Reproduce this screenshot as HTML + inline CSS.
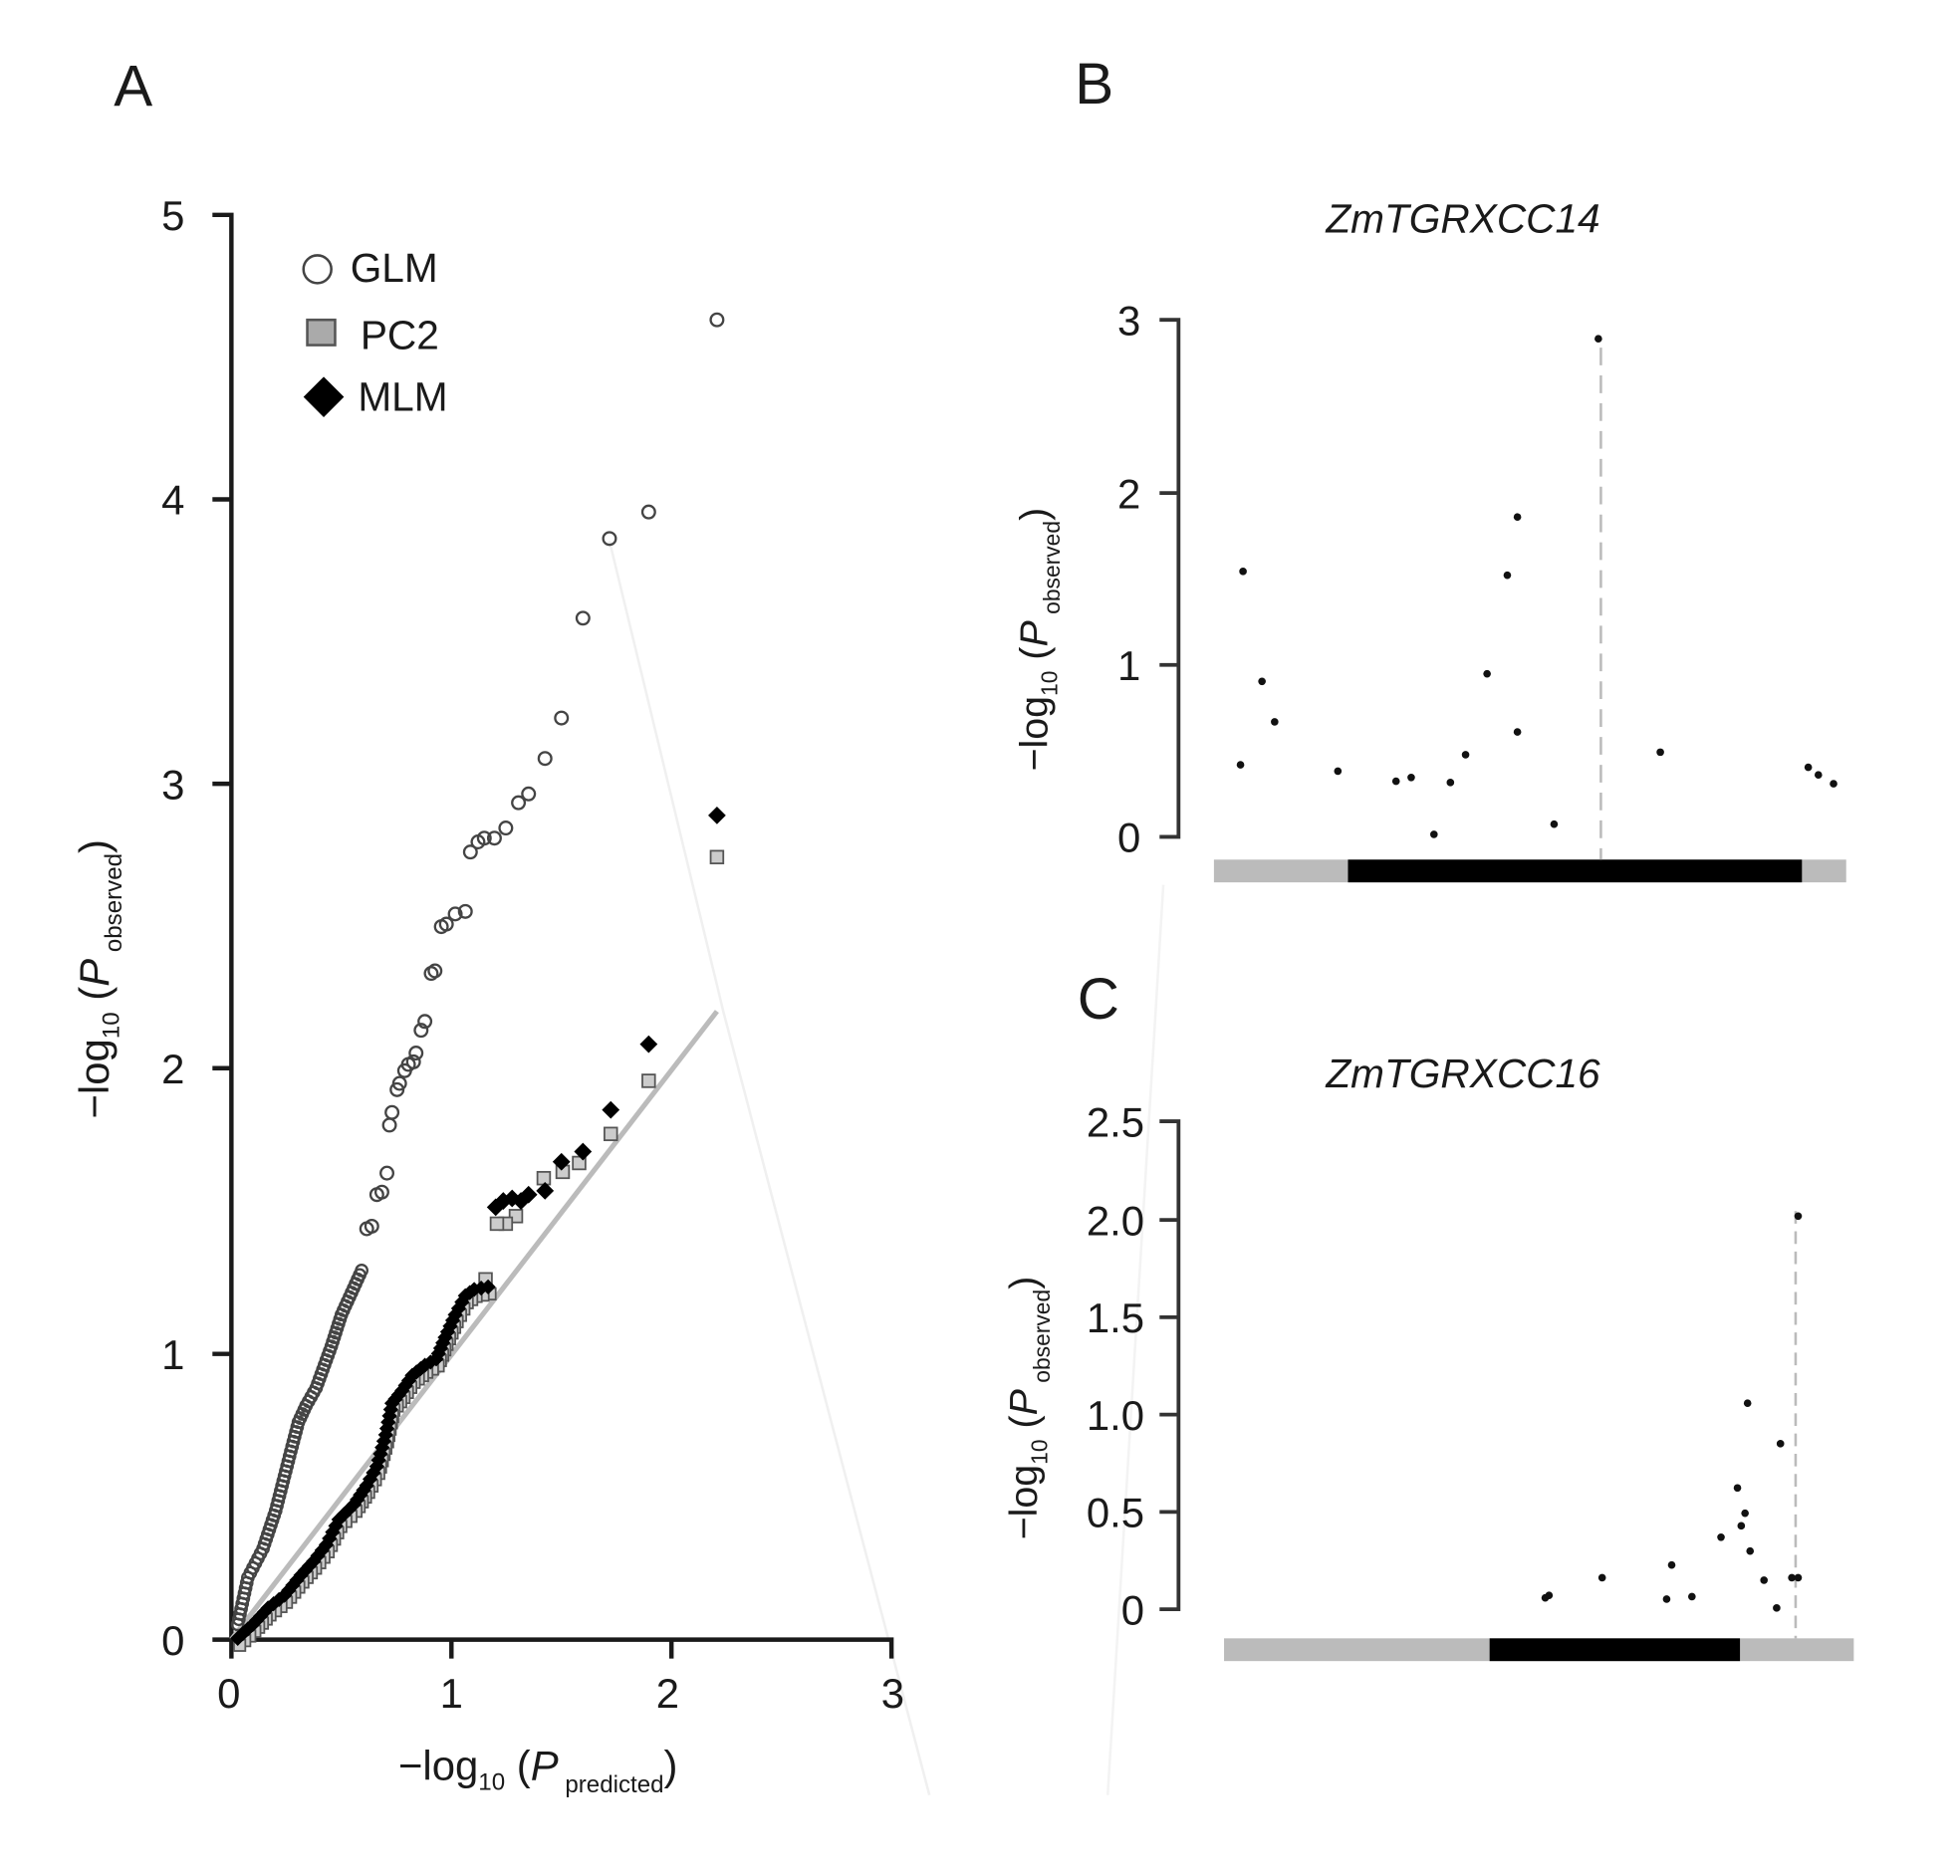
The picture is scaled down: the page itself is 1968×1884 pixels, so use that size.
<!DOCTYPE html>
<html><head><meta charset="utf-8"><style>
html,body{margin:0;padding:0;background:#fff;}
svg{display:block;}
text{font-family:"Liberation Sans",sans-serif;fill:#1a1a1a;}
</style></head><body>
<svg id="s" width="1968" height="1884" viewBox="0 0 1550 1484" preserveAspectRatio="none" xmlns="http://www.w3.org/2000/svg">
<polyline points="482,428 572,800 735,1420" fill="none" stroke="#f0f0f0" stroke-width="2"/>
<line x1="920" y1="700" x2="876" y2="1420" stroke="#f3f3f3" stroke-width="2"/>

<text x="90" y="84" font-size="46">A</text>
<g stroke="#1a1a1a" stroke-width="3.5" fill="none">
<polyline points="168,170 183,170 183,1297 705,1297 705,1312"/>
<line x1="168" y1="395" x2="183" y2="395"/>
<line x1="168" y1="620" x2="183" y2="620"/>
<line x1="168" y1="845" x2="183" y2="845"/>
<line x1="168" y1="1071" x2="183" y2="1071"/>
<line x1="168" y1="1297" x2="183" y2="1297"/>
<line x1="183" y1="1297" x2="183" y2="1312"/>
<line x1="357" y1="1297" x2="357" y2="1312"/>
<line x1="531" y1="1297" x2="531" y2="1312"/>
</g>
<g font-size="33" text-anchor="end">
<text x="146" y="182">5</text><text x="146" y="407">4</text><text x="146" y="632">3</text>
<text x="146" y="857">2</text><text x="146" y="1083">1</text><text x="146" y="1309">0</text>
</g>
<g font-size="33" text-anchor="middle">
<text x="181" y="1351">0</text><text x="357" y="1351">1</text><text x="528" y="1351">2</text><text x="706" y="1351">3</text>
</g>
<text x="315" y="1408" font-size="33">−log<tspan font-size="19" dy="8">10</tspan><tspan dy="-8"> (</tspan><tspan font-style="italic">P</tspan><tspan font-size="19" dy="10"> predicted</tspan><tspan dy="-10">)</tspan></text>
<text transform="translate(86,885) rotate(-90)" font-size="33">−log<tspan font-size="19" dy="8">10</tspan><tspan dy="-8"> (</tspan><tspan font-style="italic">P</tspan><tspan font-size="19" dy="10"> observed</tspan><tspan dy="-10">)</tspan></text>

<circle cx="251" cy="213" r="11" fill="#fff" stroke="#444" stroke-width="2"/>
<text x="277" y="223" font-size="32">GLM</text>
<rect x="243" y="253" width="22" height="20" fill="#aaa" stroke="#555" stroke-width="2"/>
<text x="285" y="276" font-size="32">PC2</text>
<polygon points="256,298 272,314 256,330 240,314" fill="#000"/>
<text x="283" y="325" font-size="32">MLM</text>

<line x1="183" y1="1297" x2="567" y2="800" stroke="#bbb" stroke-width="4"/>
<g id="glm" fill="none" stroke="#444" stroke-width="1.8"></g>
<g id="pc2" fill="#ccc" stroke="#555" stroke-width="1.4"></g>
<g id="mlm" fill="#000"></g>

<text x="850" y="82" font-size="46">B</text>
<text x="1157" y="184" font-size="32" font-style="italic" text-anchor="middle">ZmTGRXCC14</text>
<g stroke="#333" stroke-width="3" fill="none">
<polyline points="917,253 932,253 932,662 917,662"/>
<line x1="917" y1="390" x2="932" y2="390"/><line x1="917" y1="526" x2="932" y2="526"/>
</g>
<g font-size="33" text-anchor="end">
<text x="902" y="265">3</text><text x="902" y="402">2</text><text x="902" y="538">1</text><text x="902" y="674">0</text>
</g>
<text transform="translate(828,610) rotate(-90)" font-size="31">−log<tspan font-size="18" dy="8">10</tspan><tspan dy="-8"> (</tspan><tspan font-style="italic">P</tspan><tspan font-size="18" dy="10"> observed</tspan><tspan dy="-10">)</tspan></text>
<rect x="960" y="680" width="500" height="18" fill="#bbb"/>
<rect x="1066" y="680" width="359" height="18" fill="#000"/>
<line x1="1266" y1="275" x2="1266" y2="680" stroke="#bbb" stroke-width="2" stroke-dasharray="14,8"/>
<g id="bp" fill="#111"></g>

<text x="852" y="806" font-size="46">C</text>
<text x="1157" y="860" font-size="32" font-style="italic" text-anchor="middle">ZmTGRXCC16</text>
<g stroke="#333" stroke-width="3" fill="none">
<polyline points="917,887 932,887 932,1273 917,1273"/>
<line x1="917" y1="965" x2="932" y2="965"/><line x1="917" y1="1042" x2="932" y2="1042"/>
<line x1="917" y1="1119" x2="932" y2="1119"/><line x1="917" y1="1196" x2="932" y2="1196"/>
</g>
<g font-size="33" text-anchor="end">
<text x="905" y="899">2.5</text><text x="905" y="977">2.0</text><text x="905" y="1054">1.5</text>
<text x="905" y="1131">1.0</text><text x="905" y="1208">0.5</text><text x="905" y="1285">0</text>
</g>
<text transform="translate(820,1218) rotate(-90)" font-size="31">−log<tspan font-size="18" dy="8">10</tspan><tspan dy="-8"> (</tspan><tspan font-style="italic">P</tspan><tspan font-size="18" dy="10"> observed</tspan><tspan dy="-10">)</tspan></text>
<rect x="968" y="1296" width="498" height="18" fill="#bbb"/>
<rect x="1178" y="1296" width="198" height="18" fill="#000"/>
<line x1="1420" y1="958" x2="1420" y2="1296" stroke="#bbb" stroke-width="2" stroke-dasharray="10,6"/>
<g id="cp" fill="#111"></g>
</svg>
<script>
var NS="http://www.w3.org/2000/svg";
function el(g,t,a){var e=document.createElementNS(NS,t);for(var k in a)e.setAttribute(k,a[k]);document.getElementById(g).appendChild(e);}
function dense(pts,step){var out=[];for(var i=0;i<pts.length-1;i++){var a=pts[i],b=pts[i+1];var d=Math.hypot(b[0]-a[0],b[1]-a[1]);var n=Math.max(1,Math.round(d/step));for(var j=0;j<n;j++){out.push([a[0]+(b[0]-a[0])*j/n,a[1]+(b[1]-a[1])*j/n]);}}out.push(pts[pts.length-1]);return out;}
var glmS=[[567,253],[513,405],[482,426],[461,489],[444,568],[431,600],[418,628],[410,635],[400,655],[391,663],[383,663],[378,666],[372,674],[368,721],[360,723],[353,731],[349,733],[344,768],[341,770],[336,808],[333,815],[329,833],[327,840],[323,842],[320,847],[316,857],[314,862],[310,880],[308,890],[306,928],[302,943],[298,945],[294,970],[290,972]];
glmS.forEach(function(p){el("glm","circle",{cx:p[0],cy:p[1],r:5});});
dense([[286,1005],[270,1040],[262,1065],[250,1098],[242,1112],[236,1125],[230,1148],[218,1195],[208,1225],[196,1248],[188,1285]],4).forEach(function(p){el("glm","circle",{cx:p[0],cy:p[1],r:4.5});});
var mlmS=[[567,645],[513,826],[483,878],[461,911],[444,919],[431,942],[418,945],[412,950],[405,948],[398,950],[392,955]];
var pc2S=[[567,678],[513,855],[483,897],[458,920],[445,927],[430,932],[408,962],[400,968],[393,968],[384,1012]];
pc2S.forEach(function(p){el("pc2","rect",{x:p[0]-5,y:p[1]-5,width:10,height:10});});
var lo=[[386,1018],[375,1020],[368,1025],[360,1040],[352,1058],[345,1075],[336,1080],[326,1088],[318,1100],[310,1110],[305,1135],[298,1160],[290,1175],[280,1190],[268,1202],[258,1222],[248,1235],[238,1246],[225,1262],[212,1272],[200,1285],[188,1296]];
dense(lo,5).forEach(function(p,i){el("pc2","rect",{x:p[0]-3,y:p[1]+1,width:9,height:9});el("mlm","polygon",{points:(p[0])+","+(p[1]-6)+" "+(p[0]+6)+","+p[1]+" "+p[0]+","+(p[1]+6)+" "+(p[0]-6)+","+p[1]});});
mlmS.forEach(function(p){el("mlm","polygon",{points:p[0]+","+(p[1]-7)+" "+(p[0]+7)+","+p[1]+" "+p[0]+","+(p[1]+7)+" "+(p[0]-7)+","+p[1]});});
[[983,452],[981,605],[998,539],[1008,571],[1058,610],[1104,618],[1116,615],[1134,660],[1147,619],[1159,597],[1176,533],[1192,455],[1200,409],[1200,579],[1229,652],[1264,268],[1313,595],[1430,607],[1438,613],[1450,620]].forEach(function(p){el("bp","circle",{cx:p[0],cy:p[1],r:3});});
[[1222,1264],[1225,1262],[1267,1248],[1318,1265],[1322,1238],[1338,1263],[1361,1216],[1374,1177],[1377,1207],[1380,1197],[1382,1110],[1384,1227],[1395,1250],[1405,1272],[1408,1142],[1417,1248],[1422,1248],[1422,962]].forEach(function(p){el("cp","circle",{cx:p[0],cy:p[1],r:3});});
</script>
</body></html>
